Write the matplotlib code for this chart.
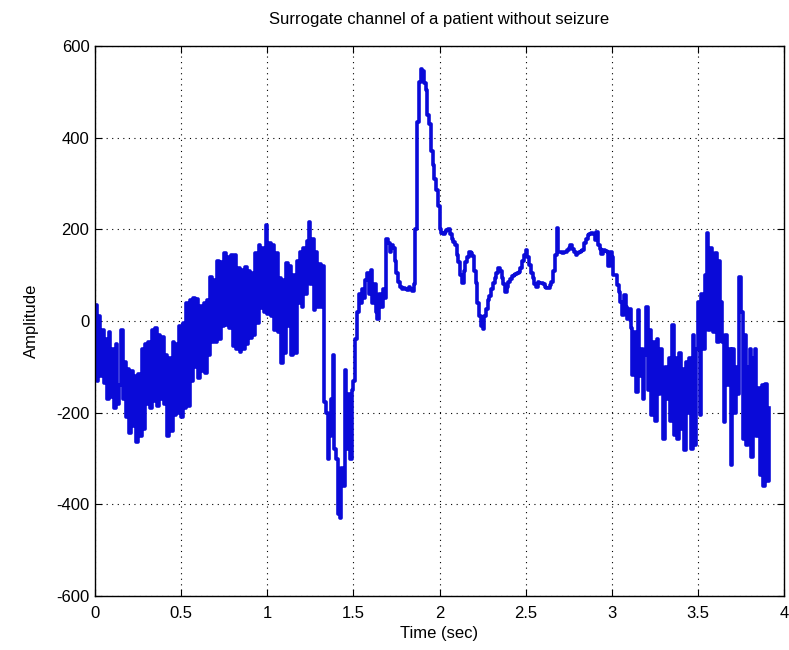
import numpy as np
import matplotlib.pyplot as plt

plt.rcParams['font.family'] = ['Liberation Sans', 'DejaVu Sans']
plt.rcParams['axes.unicode_minus'] = False

# surrogate channel, sampled at fs Hz (one row = 0.1 s)
fs = 100
amplitude = [
    35, -130, 10, -120, -20, -135, -40, -170, -25, -165,
    -60, -190, -50, -180, -140, -20, -170, -90, -210, -105,
    -245, -110, -230, -120, -264, -115, -250, -60, -235, -50,
    -180, -45, -190, -20, -175, -15, -185, -30, -170, -35,
    -180, -75, -250, -80, -240, -46, -205, -50, -200, -10,
    -210, -5, -190, 40, -185, 45, -130, 50, -100, 49,
    -125, 32, -110, 40, -114, 45, -75, 97, -45, 90,
    -45, 130, -40, 128, -10, 148, -9, 140, -15, 144,
    -55, 144, -60, 115, -67, 112, -60, 119, -50, 110,
    -38, 105, -30, 148, -5, 166, 28, 160, 20, 210,
    15, 170, 10, 165, -20, 148, -25, 93, -92, 90,
    -70, 126, -10, 120, -75, 100, -70, 130, 40, 150,
    30, 160, 60, 175, 217, 80, 180, 25, 150, 30,
    125, 30, 120, -177, -200, -300, -250, -170, -75, -280,
    -300, -420, -430, -320, -360, -107, -280, -160, -300, -150,
    -130, -40, 20, 60, 40, 70, 50, 90, 105, 60,
    112, 40, 80, 20, 5, 60, 30, 70, 50, 180,
    170, 150, 165, 160, 130, 105, 85, 75, 70, 72,
    70, 68, 75, 70, 65, 80, 200, 434, 522, 551,
    545, 520, 505, 450, 430, 370, 340, 310, 285, 250,
    200, 192, 190, 195, 198, 200, 190, 180, 172, 165,
    145, 128, 100, 84, 110, 128, 140, 150, 148, 142,
    110, 84, 40, 11, -10, -18, 10, 26, 45, 55,
    70, 84, 95, 105, 115, 110, 93, 80, 64, 75,
    86, 92, 98, 100, 102, 105, 108, 115, 130, 145,
    155, 140, 122, 105, 93, 80, 75, 86, 84, 82,
    80, 75, 72, 71, 78, 86, 110, 144, 203, 151,
    150, 148, 150, 151, 155, 160, 166, 158, 150, 144,
    148, 151, 153, 155, 170, 180, 188, 190, 192, 190,
    177, 195, 165, 158, 147, 155, 152, 150, 120, 150,
    140, 100, 100, 78, 64, 42, 14, 57, 30, 5,
    27, -16, -117, -23, -155, 25, -120, -60, -170, -74,
    31, -150, -20, -205, -45, -219, -40, -160, -60, -140,
    -257, -100, -170, -80, -219, -8, -249, -80, -257, -70,
    -235, -104, -282, -90, -200, -80, -280, -30, -270, -60,
    42, -205, 60, -60, 100, 192, -20, 159, 100, -23,
    148, -45, 130, 42, -45, -220, -30, -139, -60, -315,
    -60, -200, -100, -160, 97, 20, -257, -30, -270, -100,
    -60, -297, -80, -60, -250, -147, -337, -140, -359, -137,
    -350, -190,
]
t = np.arange(len(amplitude)) / fs

xticks = [0, 0.5, 1, 1.5, 2, 2.5, 3, 3.5, 4]
xticklabels = ['0', '0.5', '1', '1.5', '2', '2.5', '3', '3.5', '4']
yticks = [-600, -400, -200, 0, 200, 400, 600]

fig = plt.figure(figsize=(7.89, 6.5), dpi=100)
ax = fig.add_axes([0.1204, 0.0831, 0.8733, 0.846])
ax.plot(t, amplitude, color='#0a0ad8', lw=2.6, drawstyle='steps-post')

ax.set_xlim(0, 4)
ax.set_ylim(-600, 600)
ax.set_xticks(xticks)
ax.set_xticklabels(xticklabels)
ax.set_yticks(yticks)
ax.grid(True, color='black', linestyle=(0, (1, 4)), linewidth=0.8)
ax.tick_params(direction='in', top=True, right=True, length=5, labelsize=12)
ax.tick_params(axis='x', pad=7)
ax.tick_params(axis='y', pad=4)
for s in ax.spines.values():
    s.set_linewidth(1.0)

ax.set_title('Surrogate channel of a patient without seizure', fontsize=12, pad=16)
ax.set_xlabel('Time (sec)', fontsize=12, labelpad=4)
ax.set_ylabel('Amplitude', fontsize=12, labelpad=12)

fig.savefig('out.png', dpi=100)
